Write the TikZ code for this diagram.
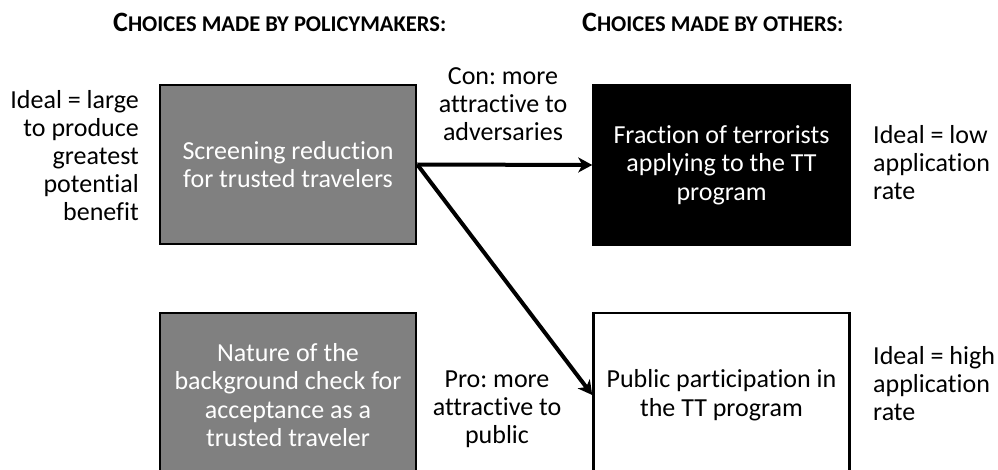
\documentclass[tikz,border=0pt]{standalone}
\usepackage{fontspec}
\setmainfont{Carlito}[Ligatures=NoCommon]
\usetikzlibrary{arrows.meta}
\definecolor{choicegray}{RGB}{128,128,128}
\frenchspacing
\tikzset{
every picture/.style={x=1pt,y=-1pt}
}
\tikzset{
  factor/.style={draw=black, line width=2.5pt, minimum width=256pt, align=center,
    inner sep=0pt, font=\fontsize{26}{28.5}\selectfont},
  policy/.style={factor, fill=choicegray, text=white},
  outcome/.style={factor, fill=white, text=black},
  dark/.style={factor, fill=black, text=white},
  note/.style={inner sep=0pt, font=\fontsize{26}{28}\selectfont},
  heading/.style={inner sep=0pt, font=\bfseries},
  link/.style={line width=4pt, -{Stealth[length=14pt, width=15pt, inset=4pt]}}
}
% small caps by hand
\newcommand\capsmall[2]{{\fontsize{28}{30}\selectfont #1}{\fontsize{22.5}{30}\selectfont #2}}

\begin{document}
\begin{tikzpicture}
  \useasboundingbox (0,0) rectangle (998,470);
  \clip (0,0) rectangle (998,470);
  % headings
  \node[heading, anchor=base west] (headpol) at (113,32)
    {\capsmall{C}{HOICES MADE BY POLICYMAKERS:}};
  \node[heading, anchor=base west] (headoth) at (582,32)
    {\capsmall{C}{HOICES MADE BY OTHERS:}};
  % boxes
  \node[policy, minimum height=159pt] (screen) at (288,164.5)
    {Screening reduction\\for trusted travelers};
  \node[policy, minimum height=164pt] (check) at (288,395)
    {Nature of the\\background check for\\acceptance as a\\trusted traveler};
  \node[dark, minimum height=160pt] (terror) at (721.5,165)
    {Fraction of terrorists\\applying to the TT\\program};
  \node[outcome, minimum height=164pt] (public) at (721.5,395)
    {Public participation in\\the TT program};
  % side notes
  \node[note, align=right, anchor=east] (idealbig) at (139,156)
    {Ideal = large\\to produce\\greatest\\potential\\benefit};
  \node[note, align=center] (con) at (503,104) {Con: more\\attractive to\\adversaries};
  \node[note, align=center] (pro) at (497,409) {Pro: more\\attractive to\\public};
  \node[note, align=left, anchor=west] (ideallow) at (873,163) {Ideal = low\\application\\rate};
  \node[note, align=left, anchor=west] (idealhigh) at (873,384) {Ideal = high\\application\\rate};
  % effects
  \draw[link] (screen.east) -- (terror.west);
  \draw[link] (screen.east) -- (public.west);
\end{tikzpicture}
\end{document}
